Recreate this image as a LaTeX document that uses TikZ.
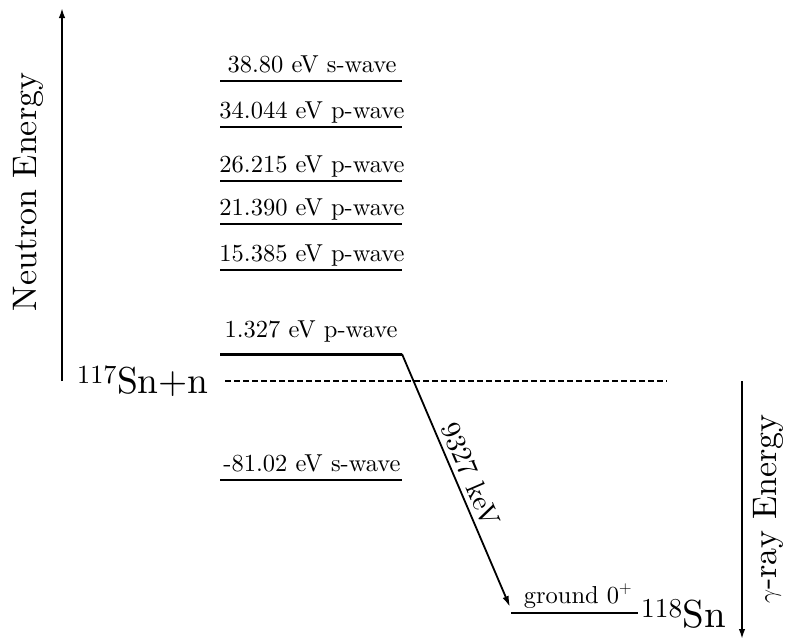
\documentclass[tikz,border=0pt]{standalone}
\usepackage{fontspec}
\setmainfont{lmroman10-regular.otf}
\usetikzlibrary{arrows.meta}
\begin{document}
\begin{tikzpicture}[x=1pt,y=-1pt,
  lvl/.style={line width=1.5pt},
  thicklvl/.style={line width=3pt},
  lab/.style={font=\fontsize{24.5}{28}\selectfont, anchor=base, inner sep=0pt},
  big/.style={font=\fontsize{37.5}{42}\selectfont, inner sep=0pt},
  axis/.style={line width=1.8pt, -{Latex[length=10pt,width=6.5pt]}},
  trans/.style={line width=1.8pt, -{Latex[length=11pt,width=6.5pt]}},
  sep/.style={line width=1.1pt, dash pattern=on 6pt off 3pt}]
\useasboundingbox (0,0) rectangle (786,641);
% levels
\foreach \y/\t [count=\i] in {81/38.80 eV s-wave, 127/34.044 eV p-wave, 181/26.215 eV p-wave, 224/21.390 eV p-wave, 270/15.385 eV p-wave, 480/-81.02 eV s-wave} {
  \coordinate (L\i a) at (220,\y);
  \coordinate (L\i b) at (402,\y);
  \draw[lvl] (L\i a) -- (L\i b);
  \node[lab] (T\i) at (312,\y-9) {\t};
}
% 1.327 eV level
\coordinate (Pa) at (220,354);
\coordinate (Pb) at (402,354);
\draw[thicklvl] (Pa) -- (Pb);
\node[lab] (PT) at (311,337) {1.327 eV p-wave};
% separation energy
\coordinate (Sa) at (225,381);
\coordinate (Sb) at (667,381);
\draw[sep] (Sa) -- (Sb);
\node[big, anchor=base east] (Sn117) at (209,393) {\textsuperscript{117}Sn+n};
% ground state
\coordinate (Ga) at (511,613);
\coordinate (Gb) at (638,613);
\draw[lvl] (Ga) -- (Gb);
\node[lab] (GT) at (578,603) {ground 0$^+$};
\node[big, font=\fontsize{39}{44}\selectfont, anchor=base west] (Sn118) at (641,627) {\textsuperscript{118}Sn};
% transition
\coordinate (Ge) at (510,607);
\draw[trans] (Pb) -- node[sloped, above, font=\fontsize{28}{32}\selectfont, inner sep=5pt] (E) {9327 keV} (Ge);
% axes
\coordinate (N0) at (62,381);
\coordinate (N1) at (62,8);
\draw[axis] (N0) -- (N1);
\node[font=\fontsize{34}{40}\selectfont, rotate=90, inner sep=0pt] (NE) at (28,192) {Neutron Energy};
\coordinate (G0) at (742,381);
\coordinate (G1) at (742,639);
\draw[axis] (G0) -- (G1);
\node[font=\fontsize{34}{40}\selectfont, rotate=90, inner sep=0pt] (GE) at (768,509) {$\gamma$-ray Energy};
\end{tikzpicture}
\end{document}
